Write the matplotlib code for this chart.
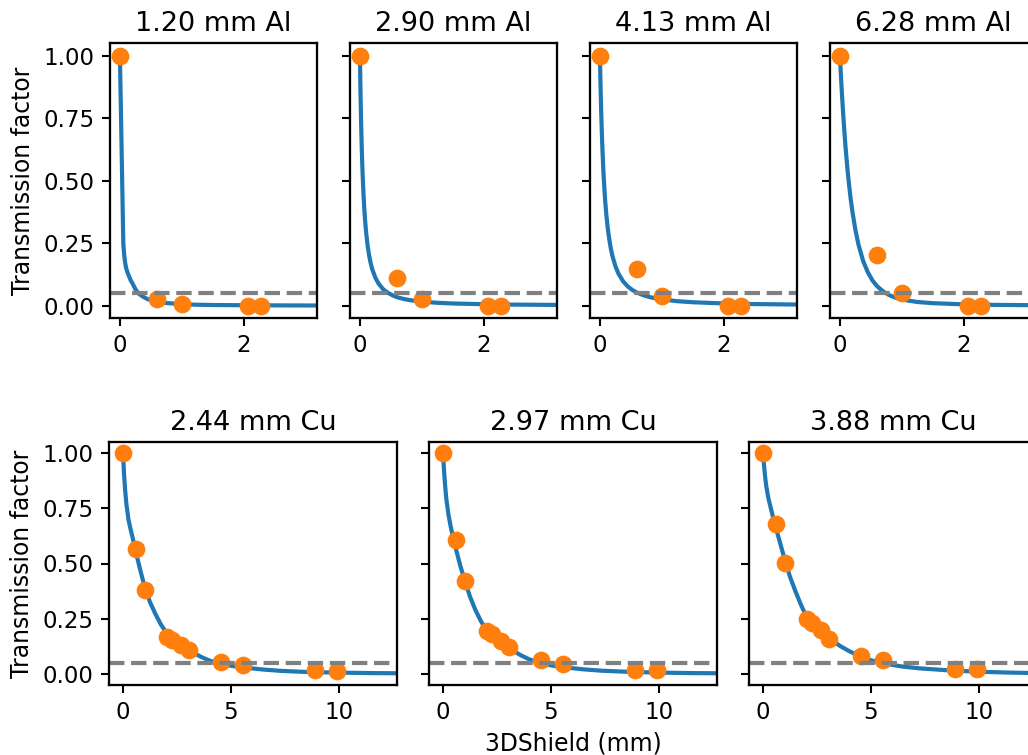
import matplotlib.pyplot as plt
import numpy as np

# measured transmission, aluminium shields
al_labels = ['1.20 mm Al', '2.90 mm Al', '4.13 mm Al', '6.28 mm Al']
al_thick = [0, 0.6, 1.0, 2.06, 2.27]
al_meas = [
    [1.0, 0.026, 0.006, 0.0, 0.0],
    [1.0, 0.110, 0.027, 0.0, 0.0],
    [1.0, 0.146, 0.037, 0.0, 0.0],
    [1.0, 0.203, 0.050, 0.0, 0.0],
]
# fitted curves
al_fit_x = [0, 0.01, 0.02, 0.03, 0.04, 0.055, 0.07, 0.085, 0.1, 0.125, 0.15, 0.175, 0.2, 0.25,
            0.3, 0.375, 0.45, 0.525, 0.6, 0.7, 0.8, 0.9, 1.0, 1.25, 1.5, 2.0, 2.5, 3.2]
al_fit = [
    [1.0, 0.863, 0.725, 0.588, 0.45, 0.245, 0.2, 0.17, 0.15, 0.13, 0.115, 0.1, 0.09, 0.065,
     0.048, 0.035, 0.025, 0.019, 0.015, 0.011, 0.009, 0.007, 0.005, 0.003, 0.002, 0.001, 0.0005, 0.0],
    [1.0, 0.843, 0.722, 0.626, 0.549, 0.459, 0.390, 0.336, 0.293, 0.238, 0.198, 0.168, 0.144, 0.111,
     0.088, 0.065, 0.051, 0.041, 0.033, 0.0265, 0.0217, 0.0181, 0.0154, 0.0108, 0.0081, 0.0051, 0.0035, 0.0023],
    [1.0, 0.880, 0.780, 0.698, 0.629, 0.543, 0.475, 0.419, 0.373, 0.312, 0.266, 0.229, 0.200, 0.157,
     0.127, 0.0965, 0.0761, 0.0618, 0.0513, 0.0412, 0.0338, 0.0284, 0.0243, 0.0172, 0.0130, 0.0082, 0.0057, 0.0038],
    [1.0, 0.950, 0.903, 0.858, 0.816, 0.757, 0.703, 0.652, 0.606, 0.537, 0.477, 0.424, 0.378, 0.302,
     0.243, 0.178, 0.133, 0.100, 0.077, 0.056, 0.041, 0.031, 0.024, 0.014, 0.0093, 0.0045, 0.0025, 0.0011],
]

# measured transmission, copper shields
cu_labels = ['2.44 mm Cu', '2.97 mm Cu', '3.88 mm Cu']
cu_thick = [0, 0.6, 1.0, 2.05, 2.28, 2.7, 3.08, 4.56, 5.57, 8.89, 9.9]
cu_meas = [
    [1.0, 0.567, 0.382, 0.167, 0.152, 0.130, 0.107, 0.054, 0.039, 0.017, 0.014],
    [1.0, 0.605, 0.421, 0.193, 0.180, 0.149, 0.122, 0.062, 0.047, 0.020, 0.017],
    [1.0, 0.677, 0.502, 0.250, 0.232, 0.198, 0.160, 0.081, 0.062, 0.024, 0.021],
]
cu_fit_x = [0, 0.05, 0.1, 0.15, 0.25, 0.35, 0.45, 0.6, 0.8, 1.0, 1.25, 1.5, 1.75, 2.0, 2.35,
            2.7, 3.1, 3.6, 4.0, 4.5, 5.0, 5.6, 6.5, 7.3, 8.5, 10.0, 11.5, 12.7]
cu_fit = [
    [1.0, 0.90, 0.83, 0.775, 0.70, 0.655, 0.615, 0.55, 0.47, 0.395, 0.325, 0.272, 0.225, 0.187, 0.155,
     0.13, 0.105, 0.078, 0.061, 0.047, 0.037, 0.029, 0.020, 0.014, 0.009, 0.006, 0.004, 0.003],
    [1.0, 0.915, 0.85, 0.795, 0.722, 0.67, 0.625, 0.565, 0.49, 0.425, 0.35, 0.29, 0.24, 0.20, 0.168,
     0.145, 0.114, 0.085, 0.066, 0.05, 0.039, 0.030, 0.021, 0.015, 0.010, 0.006, 0.004, 0.003],
    [1.0, 0.94, 0.89, 0.85, 0.795, 0.755, 0.715, 0.66, 0.59, 0.52, 0.44, 0.375, 0.315, 0.262, 0.222,
     0.19, 0.158, 0.125, 0.103, 0.08, 0.062, 0.047, 0.033, 0.025, 0.017, 0.010, 0.006, 0.004],
]

limit = 0.05
W, H = 1028, 755

fig = plt.figure(figsize=(W / 150, H / 150), dpi=150)


def panel(left, top, width, height, fx, fy, mx, my, title, xlim, xticks, first):
    ax = fig.add_axes([left / W, 1 - (top + height) / H, width / W, height / H])
    ax.plot(fx, fy, color='C0', lw=2)
    ax.plot(mx, my, 'o', color='C1', ms=7.5)
    ax.axhline(limit, color='grey', ls='--', lw=2)
    ax.set_xlim(*xlim)
    ax.set_ylim(-0.05, 1.05)
    ax.set_xticks(xticks)
    ax.set_yticks([0, 0.25, 0.5, 0.75, 1.0])
    ax.set_title(title, fontsize=13)
    ax.tick_params(labelsize=11, width=1.0, length=4)
    for s in ax.spines.values():
        s.set_linewidth(1.1)
    if first:
        ax.set_ylabel('Transmission factor', fontsize=11.3)
    else:
        ax.set_yticklabels([])
    return ax


for i in range(4):
    panel(110 + 240 * i, 43, 207, 275, al_fit_x, al_fit[i], al_thick, al_meas[i],
          al_labels[i], (-0.16, 3.18), [0, 2], i == 0)

for i in range(3):
    ax = panel(109 + 320 * i, 442, 288, 243, cu_fit_x, cu_fit[i], cu_thick, cu_meas[i],
               cu_labels[i], (-0.65, 12.7), [0, 5, 10], i == 0)
    if i == 1:
        ax.set_xlabel('3DShield (mm)', fontsize=11.3)

fig.savefig('out.png', dpi=150)
